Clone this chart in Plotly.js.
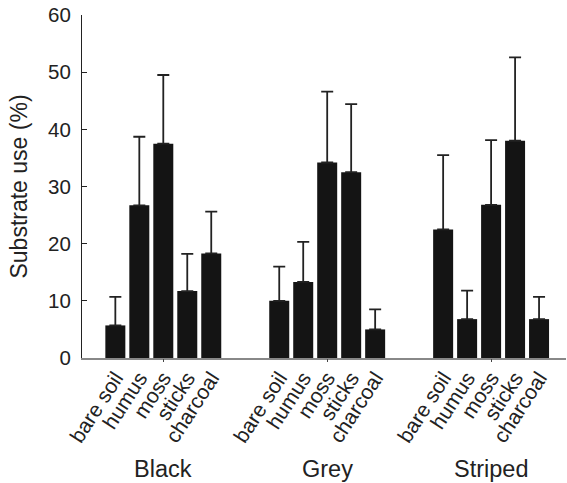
<!DOCTYPE html>
<html>
<head>
<meta charset="utf-8">
<script src="https://cdn.plot.ly/plotly-3.0.1.min.js"></script>
<style>html,body{margin:0;padding:0;background:#fff;}#chart{width:567px;height:483px;}</style>
</head>
<body>
<div id="chart"></div>
<script>
// Data
var groups = ["Black", "Grey", "Striped"];
var substrates = ["bare soil", "humus", "moss", "sticks", "charcoal"];
var blackUse = [5.7, 26.7, 37.5, 11.7, 18.3];
var blackErr = [5.0, 12.0, 12.0, 6.5, 7.3];
var greyUse = [10.0, 13.3, 34.2, 32.5, 5.0];
var greyErr = [6.0, 7.0, 12.4, 11.9, 3.5];
var stripedUse = [22.5, 6.8, 26.8, 38.0, 6.8];
var stripedErr = [13.0, 5.0, 11.3, 14.6, 3.9];
var yTicks = [0, 10, 20, 30, 40, 50, 60];

var useByGroup = [blackUse, greyUse, stripedUse];
var errByGroup = [blackErr, greyErr, stripedErr];

// layout helpers
var pitch = 0.1463, barW = 0.122;
var xs = [], ys = [], es = [], labels = [];
groups.forEach(function (g, gi) {
  substrates.forEach(function (s, si) {
    xs.push(gi + 1 + (si - 2) * pitch);
    ys.push(useByGroup[gi][si]);
    es.push(errByGroup[gi][si]);
    labels.push(s);
  });
});
var groupPos = groups.map(function (g, i) { return i + 1; });

var trace = {
  type: "bar",
  x: xs,
  y: ys,
  width: barW,
  marker: { color: "#141414", line: { width: 0 } },
  error_y: {
    type: "data", symmetric: false, array: es,
    arrayminus: es.map(function () { return 0; }),
    color: "#222", thickness: 1.8, width: 6
  },
  hoverinfo: "none",
  showlegend: false
};
var dummy = {
  type: "scatter", x: groupPos, y: groupPos.map(function(){return 0;}),
  xaxis: "x2", mode: "markers", marker: { opacity: 0 }, showlegend: false, hoverinfo: "none"
};

var font = "Liberation Sans, Arial, Helvetica, sans-serif";
var xr = [0.504, 3.457];
var layout = {
  width: 567, height: 483,
  margin: { l: 82, r: 1, t: 15, b: 125 },
  paper_bgcolor: "#fff", plot_bgcolor: "#fff",
  font: { family: font, color: "#222" },
  xaxis: {
    range: xr, tickmode: "array", tickvals: xs, ticktext: labels,
    tickangle: -57, tickfont: { size: 21, color: "#222" },
    ticks: "", showgrid: false, zeroline: false,
    showline: true, linecolor: "#888", linewidth: 1.5,
    ticklabelstandoff: -2,
    fixedrange: true
  },
  xaxis2: {
    range: xr, overlaying: "x", anchor: "y", side: "bottom",
    tickmode: "array", tickvals: groupPos, showticklabels: false,
    ticks: "outside", ticklen: 3, tickcolor: "#444", tickwidth: 1,
    showgrid: false, zeroline: false, showline: false
  },
  yaxis: {
    range: [0, 60], tickmode: "array", tickvals: yTicks,
    ticks: "inside", ticklen: 5, tickcolor: "#222", tickwidth: 1,
    tickfont: { size: 20.5, color: "#222" }, ticklabelstandoff: 6,
    showgrid: false, zeroline: false,
    showline: true, linecolor: "#222", linewidth: 1,
    title: { text: "Substrate use (%)", font: { size: 23, color: "#222" }, standoff: 14 },
    fixedrange: true
  },
  annotations: groups.map(function (g, i) {
    return {
      text: g, x: groupPos[i], xref: "x", y: -0.325, yref: "paper",
      xanchor: "center", yanchor: "middle", showarrow: false,
      font: { size: 23.5, color: "#222", family: font }
    };
  })
};

Plotly.newPlot("chart", [trace, dummy], layout, { displayModeBar: false, staticPlot: true });
</script>
</body>
</html>
